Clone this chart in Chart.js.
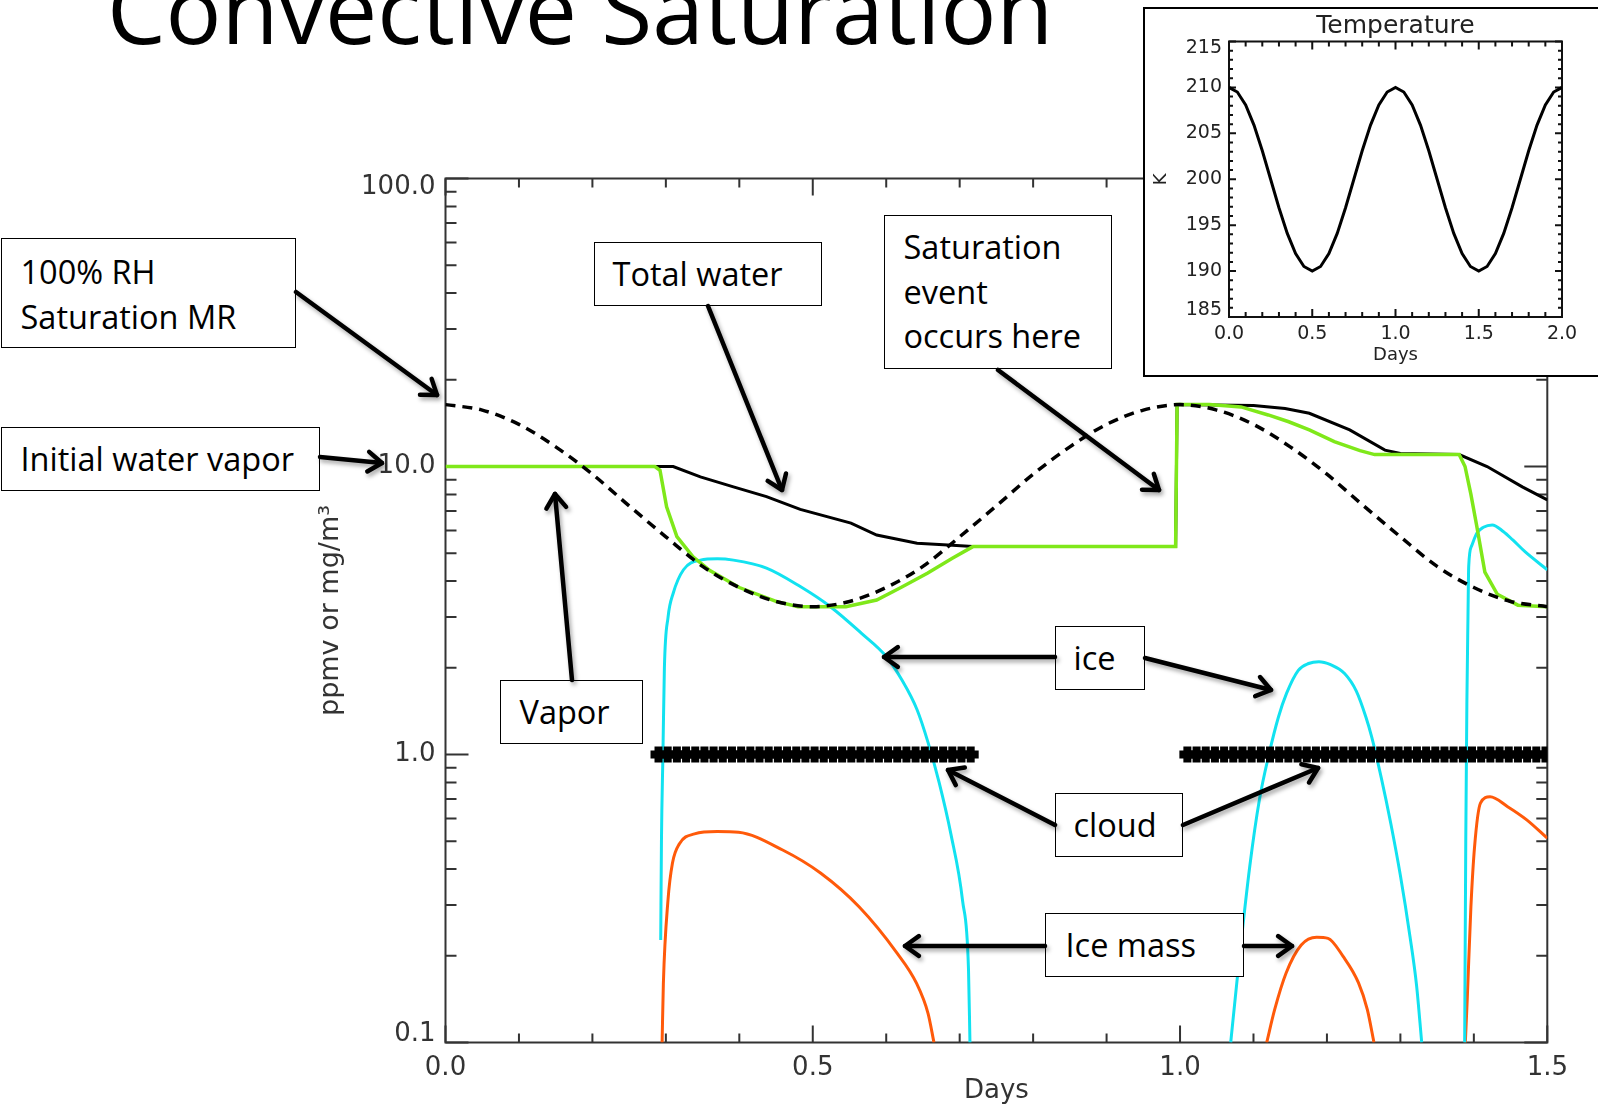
<!DOCTYPE html>
<html>
<head>
<meta charset="utf-8">
<script src="https://cdn.jsdelivr.net/npm/chart.js@4.4.1/dist/chart.umd.min.js"></script>
<style>
  html, body { margin: 0; padding: 0; background: #fff; }
  body { position: relative; width: 1598px; height: 1107px; overflow: hidden; }
  #mainChart { position: absolute; left: 0; top: 0; }
  #title { position: absolute; left: 107px; top: -38px; font-family: 'Open Sans'; font-size: 93px; line-height: 93px; white-space: nowrap; color: #000; }
  #inset { position: absolute; left: 1143px; top: 7px; width: 470px; height: 366px; border: 2px solid #000; background: #fff; }
  #insetChart { position: absolute; left: 0; top: 0; }
  .note { position: absolute; background: #fff; border: 1.5px solid #000; box-sizing: border-box; font-family: 'Open Sans'; font-size: 32.5px; color: #000; white-space: nowrap; }
  .note div { position: absolute; }
  #arrows { position: absolute; left: 0; top: 0; filter: drop-shadow(2px 3px 2px rgba(0,0,0,0.35)); }
</style>
</head>
<body>
<div id="title">Convective Saturation</div>
<canvas id="mainChart" width="1598" height="1107"></canvas>
<div id="inset"><canvas id="insetChart" width="453" height="366"></canvas></div>
<svg id="arrows" width="1598" height="1107"></svg>

<script>
// --- main chart data (days, ppmv) ---
const xTickValues = [0, 0.5, 1.0, 1.5];
const xMinorTicks = [0.1, 0.2, 0.3, 0.4, 0.6, 0.7, 0.8, 0.9, 1.1, 1.2, 1.3, 1.4];
const yTickValues = [0.1, 1, 10, 100];
const yMinorTicks = [0.2, 0.3, 0.4, 0.5, 0.6, 0.7, 0.8, 0.9, 2, 3, 4, 5, 6, 7, 8, 9, 20, 30, 40, 50, 60, 70, 80, 90];

// 100% RH saturation mixing ratio (dashed)
const satDays = [0, 0.05, 0.1, 0.15, 0.2, 0.25, 0.3, 0.35, 0.4, 0.45, 0.5, 0.55, 0.6, 0.65, 0.7, 0.75,
  0.8, 0.85, 0.9, 0.95, 1.0, 1.05, 1.1, 1.15, 1.2, 1.25, 1.3, 1.35, 1.4, 1.45, 1.5];
const satValues = [16.4, 15.7, 14.0, 11.7, 9.4, 7.3, 5.7, 4.5, 3.8, 3.4, 3.26, 3.4, 3.8, 4.5, 5.7, 7.3,
  9.4, 11.7, 14.0, 15.7, 16.4, 15.7, 14.0, 11.7, 9.4, 7.3, 5.7, 4.5, 3.8, 3.4, 3.26];

// water vapor (green)
const vaporDays = [0, 0.285, 0.292, 0.301, 0.315, 0.337, 0.36, 0.4, 0.45, 0.48, 0.545, 0.587, 0.62, 0.656, 0.69, 0.718,
  0.994, 0.996, 1.04, 1.083, 1.12, 1.148, 1.176, 1.21, 1.245, 1.265, 1.38, 1.388, 1.396, 1.404, 1.415, 1.432, 1.46, 1.5];
const vaporValues = [10, 10, 9.7, 7.25, 5.71, 4.86, 4.35, 3.8, 3.4, 3.26, 3.26, 3.44, 3.8, 4.26, 4.8, 5.27,
  5.27, 16.4, 16.4, 16.1, 15.1, 14.3, 13.4, 12.2, 11.35, 11.0, 11.0, 10.0, 8.0, 6.2, 4.3, 3.6, 3.3, 3.26];

// total water (solid black)
const totalDays = [0, 0.31, 0.347, 0.392, 0.437, 0.483, 0.552, 0.587, 0.642, 0.69, 0.718, 0.994, 0.996,
  1.1, 1.143, 1.176, 1.231, 1.279, 1.30, 1.38, 1.418, 1.466, 1.5];
const totalValues = [10, 10, 9.2, 8.5, 7.86, 7.1, 6.36, 5.78, 5.41, 5.33, 5.27, 5.27, 16.4,
  16.3, 15.9, 15.3, 13.4, 11.4, 11.1, 11.0, 10.0, 8.5, 7.66];

// ice (cyan), null = gap between events
const iceDays = [0.293, 0.294, 0.296, 0.298, 0.303, 0.31, 0.324, 0.347, 0.37, 0.392, 0.437, 0.483, 0.524, 0.566,
  0.60, 0.621, 0.642, 0.657, 0.672, 0.688, 0.704, 0.712, 0.714,
  0.9,
  1.069, 1.0795, 1.095, 1.108, 1.121, 1.134, 1.145, 1.161, 1.175, 1.189, 1.205, 1.224, 1.24, 1.253, 1.261,
  1.274, 1.287, 1.300, 1.313, 1.322, 1.329,
  1.36,
  1.3875, 1.389, 1.3905, 1.392, 1.393, 1.397, 1.404, 1.413, 1.425, 1.44, 1.453, 1.47, 1.5];
const iceValues = [0.227, 0.5, 1.0, 2.0, 3.0, 3.63, 4.38, 4.73, 4.78, 4.73, 4.44, 3.83, 3.26, 2.64,
  2.19, 1.82, 1.43, 1.1, 0.8, 0.53, 0.31, 0.18, 0.1,
  null,
  0.1, 0.183, 0.41, 0.695, 1.0, 1.35, 1.63, 1.96, 2.07, 2.10, 2.05, 1.91, 1.66, 1.35, 1.15,
  0.83, 0.575, 0.38, 0.234, 0.158, 0.1,
  null,
  0.1, 0.5, 1.5, 3.0, 4.5, 5.3, 5.86, 6.15, 6.27, 5.95, 5.56, 5.05, 4.38];

// ice mass (orange)
const iceMassDays = [0.2949, 0.2966, 0.3028, 0.309, 0.3185, 0.339, 0.370, 0.399, 0.459, 0.511, 0.563, 0.615, 0.641, 0.657, 0.665,
  0.9,
  1.118, 1.1288, 1.1443, 1.165, 1.186, 1.2015, 1.222, 1.243, 1.255, 1.264,
  1.33,
  1.3884, 1.391, 1.396, 1.401, 1.409, 1.422, 1.446, 1.472, 1.5];
const iceMassValues = [0.1, 0.16, 0.31, 0.42, 0.49, 0.53, 0.54, 0.537, 0.466, 0.387, 0.296, 0.204, 0.161, 0.126, 0.1,
  null,
  0.1, 0.13, 0.174, 0.218, 0.232, 0.230, 0.199, 0.161, 0.13, 0.1,
  null,
  0.1, 0.141, 0.296, 0.479, 0.678, 0.713, 0.659, 0.593, 0.512];

// cloud present flag (drawn at 1.0)
const cloudLevel = 1.0;
const cloudDays = [0.29, 0.3025, 0.315, 0.3275, 0.34, 0.3525, 0.365, 0.3775, 0.39, 0.4025, 0.415, 0.4275, 0.44, 0.4525,
  0.465, 0.4775, 0.49, 0.5025, 0.515, 0.5275, 0.54, 0.5525, 0.565, 0.5775, 0.59, 0.6025, 0.615, 0.6275, 0.64,
  0.6525, 0.665, 0.6775, 0.69, 0.7025, 0.715,
  1.01, 1.0225, 1.035, 1.0475, 1.06, 1.0725, 1.085, 1.0975, 1.11, 1.1225, 1.135, 1.1475, 1.16, 1.1725, 1.185,
  1.1975, 1.21, 1.2225, 1.235, 1.2475, 1.26, 1.2725, 1.285, 1.2975, 1.31, 1.3225, 1.335, 1.3475, 1.36, 1.3725,
  1.385, 1.3975, 1.41, 1.4225, 1.435, 1.4475, 1.46, 1.4725, 1.485, 1.4975];

// --- inset: temperature ---
const tempDays = [0, 0.05, 0.1, 0.15, 0.2, 0.25, 0.3, 0.35, 0.4, 0.45, 0.5, 0.55, 0.6, 0.65, 0.7, 0.75, 0.8, 0.85, 0.9, 0.95,
  1.0, 1.05, 1.1, 1.15, 1.2, 1.25, 1.3, 1.35, 1.4, 1.45, 1.5, 1.55, 1.6, 1.65, 1.7, 1.75, 1.8, 1.85, 1.9, 1.95, 2.0];
const tempValues = [210.0, 209.5, 208.1, 205.9, 203.1, 200.0, 196.9, 194.1, 191.9, 190.5, 190.0, 190.5, 191.9, 194.1,
  196.9, 200.0, 203.1, 205.9, 208.1, 209.5, 210.0, 209.5, 208.1, 205.9, 203.1, 200.0, 196.9, 194.1, 191.9, 190.5,
  190.0, 190.5, 191.9, 194.1, 196.9, 200.0, 203.1, 205.9, 208.1, 209.5, 210.0];
const insetXTicks = [0, 0.5, 1.0, 1.5, 2.0];
const insetXMinor = [0.1, 0.2, 0.3, 0.4, 0.6, 0.7, 0.8, 0.9, 1.1, 1.2, 1.3, 1.4, 1.6, 1.7, 1.8, 1.9];
const insetYTicks = [185, 190, 195, 200, 205, 210, 215];
const insetYMinor = [186, 187, 188, 189, 191, 192, 193, 194, 196, 197, 198, 199, 201, 202, 203, 204,
  206, 207, 208, 209, 211, 212, 213, 214];

// 注記ボックスと矢印 (ページ座標)
const notes = [
  { lines: ['100% RH', 'Saturation MR'], x: 1, y: 238, w: 295, h: 110, tx: 21, ty: 272, lh: 45 },
  { lines: ['Initial water vapor'], x: 1, y: 427, w: 319, h: 64, tx: 21, ty: 459, lh: 45 },
  { lines: ['Total water'], x: 594, y: 242, w: 228, h: 64, tx: 613, ty: 274, lh: 45 },
  { lines: ['Saturation', 'event', 'occurs here'], x: 884, y: 215, w: 228, h: 154, tx: 904, ty: 248, lh: 44.3 },
  { lines: ['Vapor'], x: 500, y: 680, w: 143, h: 64, tx: 520, ty: 712, lh: 45 },
  { lines: ['ice'], x: 1055, y: 626, w: 90, h: 64, tx: 1074, ty: 658, lh: 45 },
  { lines: ['cloud'], x: 1055, y: 793, w: 128, h: 64, tx: 1074, ty: 825, lh: 45 },
  { lines: ['Ice mass'], x: 1045, y: 913, w: 199, h: 64, tx: 1066, ty: 945, lh: 45 }
];
const arrows = [
  [296, 292, 437, 395],
  [320, 457, 382, 463],
  [708, 306, 782, 490],
  [998, 370, 1159, 490],
  [572, 680, 555, 494],
  [1055, 657, 884, 657],
  [1145, 658, 1271, 690],
  [1055, 825, 948, 770],
  [1183, 825, 1318, 768],
  [1045, 946, 905, 946],
  [1244, 946, 1292, 946]
];

function pts(xs, ys) {
  return xs.map((x, i) => ({ x: x, y: ys[i] }));
}

// 端のラベルを軸の内側に寄せる (IDL風): 空行を足してずらす
function edgeLabel(text, i, n) {
  if (i === n - 1) return ['', text];
  if (i === 0) return [text, ''];
  return text;
}

// 内向きの目盛りと枠 (IDL風)
const innerTicks = {
  id: 'innerTicks',
  beforeDatasetsDraw(chart, args, o) {
    const { ctx, chartArea: a, scales: { x, y } } = chart;
    ctx.save();
    ctx.strokeStyle = o.color;
    ctx.lineWidth = o.width;
    ctx.beginPath();
    const xt = (list, len) => list.forEach(v => {
      const p = x.getPixelForValue(v);
      ctx.moveTo(p, a.bottom); ctx.lineTo(p, a.bottom - len);
      ctx.moveTo(p, a.top); ctx.lineTo(p, a.top + len);
    });
    const yt = (list, len) => list.forEach(v => {
      const p = y.getPixelForValue(v);
      ctx.moveTo(a.left, p); ctx.lineTo(a.left + len, p);
      ctx.moveTo(a.right, p); ctx.lineTo(a.right - len, p);
    });
    xt(o.xMajor, o.xMajorLen); xt(o.xMinor, o.xMinorLen);
    yt(o.yMajor, o.yMajorLen); yt(o.yMinor, o.yMinorLen);
    ctx.stroke();
    ctx.strokeRect(a.left, a.top, a.right - a.left, a.bottom - a.top);
    ctx.restore();
  }
};

const axisFont = { family: 'DejaVu Sans', size: 26 };
const lineDs = (label, data, color, width, extra) => Object.assign({
  label: label, data: data, showLine: true, borderColor: color, borderWidth: width,
  pointRadius: 0, fill: false, spanGaps: false
}, extra || {});

new Chart(document.getElementById('mainChart'), {
  type: 'scatter',
  data: {
    datasets: [
      { label: 'cloud', data: cloudDays.map(d => ({ x: d, y: cloudLevel })), showLine: false, clip: 0,
        pointStyle: 'cross', pointRadius: 8, pointBorderWidth: 8, pointBorderColor: '#000', pointBackgroundColor: '#000' },
      lineDs('100% RH', pts(satDays, satValues), '#000', 3.5, { borderDash: [10, 7], cubicInterpolationMode: 'monotone' }),
      lineDs('Vapor', pts(vaporDays, vaporValues), '#7fe81a', 3.5),
      lineDs('Total water', pts(totalDays, totalValues), '#000', 3),
      lineDs('ice', pts(iceDays, iceValues), '#12e2f0', 3, { cubicInterpolationMode: 'monotone' }),
      lineDs('Ice mass', pts(iceMassDays, iceMassValues), '#ff5a0a', 3, { cubicInterpolationMode: 'monotone' })
    ]
  },
  options: {
    responsive: false,
    animation: false,
    devicePixelRatio: 1,
    layout: { padding: { left: 0, top: 178.5, right: 50.7, bottom: 0 } },
    plugins: {
      legend: { display: false },
      tooltip: { enabled: false },
      innerTicks: {
        color: '#333', width: 2,
        xMajor: xTickValues, xMinor: xMinorTicks, yMajor: yTickValues, yMinor: yMinorTicks,
        xMajorLen: 17, xMinorLen: 9, yMajorLen: 23, yMinorLen: 11
      }
    },
    scales: {
      x: {
        type: 'linear', min: 0, max: 1.5,
        afterBuildTicks: s => { s.ticks = xTickValues.map(v => ({ value: v })); },
        afterFit: s => { s.height = 64.5; },
        grid: { display: false, drawTicks: false },
        border: { display: false },
        ticks: { autoSkip: false, maxRotation: 0, padding: 10, font: axisFont, color: '#333', callback: v => Number(v).toFixed(1) },
        title: { display: true, text: 'Days', font: axisFont, color: '#333', padding: { top: 0, bottom: 0 } }
      },
      y: {
        type: 'logarithmic', min: 0.1, max: 100,
        afterBuildTicks: s => { s.ticks = yTickValues.map(v => ({ value: v })); },
        afterFit: s => { s.width = 445.5; },
        grid: { display: false, drawTicks: false },
        border: { display: false },
        ticks: {
          autoSkip: false, padding: 10, font: { family: 'DejaVu Sans', size: 26, lineHeight: 0.65 }, color: '#333',
          callback: (v, i, ticks) => edgeLabel(Number(v).toFixed(1), i, ticks.length)
        },
        title: { display: true, text: 'ppmv or mg/m³', font: { family: 'DejaVu Sans', size: 27 }, color: '#333', padding: { top: 315, bottom: 0 } }
      }
    }
  },
  plugins: [innerTicks]
});

const insetFont = { family: 'DejaVu Sans', size: 19 };
new Chart(document.getElementById('insetChart'), {
  type: 'scatter',
  data: {
    datasets: [lineDs('Temperature', pts(tempDays, tempValues), '#000', 3)]
  },
  options: {
    responsive: false,
    animation: false,
    devicePixelRatio: 1,
    layout: { padding: { left: 0, top: 0, right: 36, bottom: 0 } },
    plugins: {
      legend: { display: false },
      tooltip: { enabled: false },
      title: {
        display: true, text: 'Temperature', fullSize: false, color: '#222',
        font: { family: 'DejaVu Sans', size: 25, weight: 'normal' }, padding: { top: 2.5, bottom: 0 }
      },
      innerTicks: {
        color: '#111', width: 2,
        xMajor: insetXTicks, xMinor: insetXMinor, yMajor: insetYTicks, yMinor: insetYMinor,
        xMajorLen: 8, xMinorLen: 5, yMajorLen: 7, yMinorLen: 4
      }
    },
    scales: {
      x: {
        type: 'linear', min: 0, max: 2,
        afterBuildTicks: s => { s.ticks = insetXTicks.map(v => ({ value: v })); },
        afterFit: s => { s.height = 58; },
        grid: { display: false, drawTicks: false },
        border: { display: false },
        ticks: { autoSkip: false, maxRotation: 0, padding: 6, font: insetFont, color: '#222', callback: v => Number(v).toFixed(1) },
        title: { display: true, text: 'Days', font: { family: 'DejaVu Sans', size: 18 }, color: '#222', padding: { top: 0, bottom: 9 } }
      },
      y: {
        type: 'linear', min: 185, max: 215,
        afterBuildTicks: s => { s.ticks = insetYTicks.map(v => ({ value: v })); },
        afterFit: s => { s.width = 84; },
        grid: { display: false, drawTicks: false },
        border: { display: false },
        ticks: {
          autoSkip: false, padding: 7, font: { family: 'DejaVu Sans', size: 19, lineHeight: 0.7 }, color: '#222',
          callback: (v, i, ticks) => edgeLabel(String(v), i, ticks.length)
        },
        title: { display: true, text: 'K', font: { family: 'DejaVu Sans', size: 18 }, color: '#222', padding: { top: 6, bottom: 0 } }
      }
    }
  },
  plugins: [innerTicks]
});

// 注記ボックス
notes.forEach(n => {
  const box = document.createElement('div');
  box.className = 'note';
  box.style.left = n.x + 'px';
  box.style.top = n.y + 'px';
  box.style.width = n.w + 'px';
  box.style.height = n.h + 'px';
  n.lines.forEach((t, i) => {
    const line = document.createElement('div');
    line.textContent = t;
    line.style.top = (n.ty + i * n.lh - n.lh / 2 - n.y - 1.5) + 'px';
    line.style.height = n.lh + 'px';
    line.style.lineHeight = n.lh + 'px';
    line.style.left = (n.tx - n.x - 1.5) + 'px';
    box.appendChild(line);
  });
  box.style.zIndex = 3;
  document.body.appendChild(box);
});

// 矢印
const svg = document.getElementById('arrows');
svg.style.zIndex = 4;
const NS = 'http://www.w3.org/2000/svg';
arrows.forEach(([x1, y1, x2, y2]) => {
  const ang = Math.atan2(y2 - y1, x2 - x1);
  const len = 17, spread = 0.62;
  const g = document.createElementNS(NS, 'g');
  g.setAttribute('stroke', '#000');
  g.setAttribute('stroke-width', '4.5');
  g.setAttribute('fill', 'none');
  g.setAttribute('stroke-linecap', 'round');
  g.setAttribute('stroke-linejoin', 'round');
  const shaft = document.createElementNS(NS, 'line');
  shaft.setAttribute('x1', x1); shaft.setAttribute('y1', y1);
  shaft.setAttribute('x2', x2); shaft.setAttribute('y2', y2);
  const head = document.createElementNS(NS, 'polyline');
  const ax = x2 - len * Math.cos(ang - spread), ay = y2 - len * Math.sin(ang - spread);
  const bx = x2 - len * Math.cos(ang + spread), by = y2 - len * Math.sin(ang + spread);
  head.setAttribute('points', `${ax},${ay} ${x2},${y2} ${bx},${by}`);
  g.appendChild(shaft);
  g.appendChild(head);
  svg.appendChild(g);
});
document.getElementById('inset').style.zIndex = 2;
</script>
</body>
</html>
